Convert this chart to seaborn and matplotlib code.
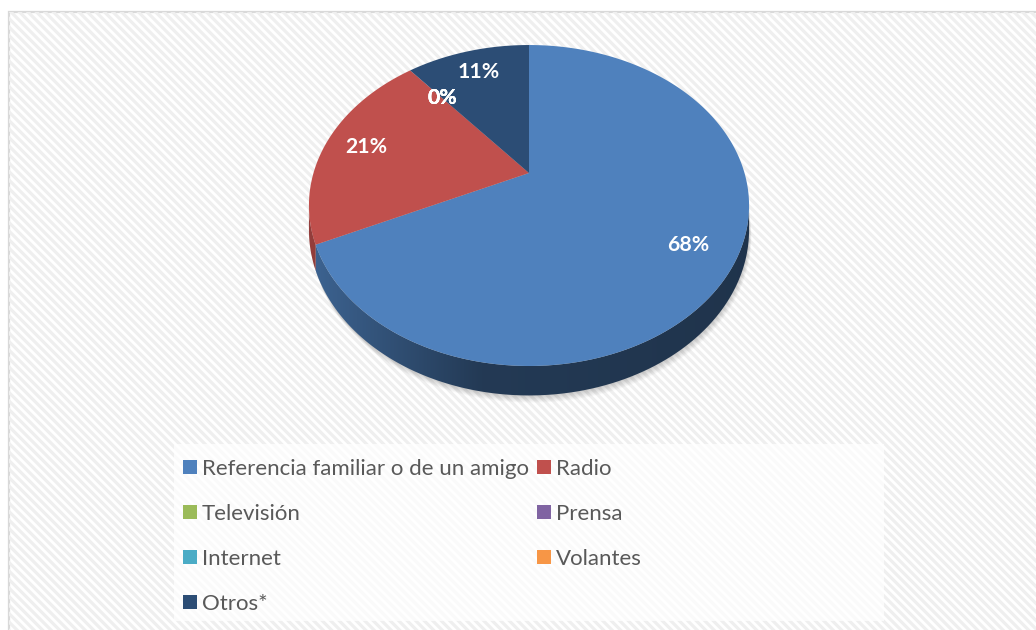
import numpy as np
import matplotlib
matplotlib.use("Agg")
import matplotlib.pyplot as plt
import seaborn as sns
from matplotlib.patches import Polygon, Rectangle
from matplotlib.collections import LineCollection
from matplotlib.colors import to_rgb

# ---------------- data ----------------
categories = ["Referencia familiar o de un amigo", "Radio", "Televisión", "Prensa",
              "Internet", "Volantes", "Otros*"]
values = [68, 21, 0, 0, 0, 0, 11]
colors = ["#4F81BD", "#C0504D", "#9BBB59", "#8064A2", "#4BACC6", "#F79646", "#2C4D75"]

# ---------------- setup ----------------
sns.set_theme(style="white")
plt.rcParams['font.family'] = ['Lato', 'DejaVu Sans']

W, H = 1036, 630
fig = plt.figure(figsize=(W / 100, H / 100), dpi=100)
ax = fig.add_axes([0, 0, 1, 1])
ax.axis('off')
renderer = fig.canvas.get_renderer()


def fit_size(text, target_px, weight='normal'):
    t = ax.text(0, 0, text, fontsize=10, fontweight=weight)
    w = t.get_window_extent(renderer).width
    t.remove()
    return 10 * target_px / w


# chart frame with diagonal stripe texture
frame = Rectangle((9, 12), W + 20, H + 20, fc='white', ec='#d9d9d9', lw=1.6, zorder=0)
ax.add_patch(frame)
cs = np.arange(-800, 1100, 8.5)
segs = [[(c, 0), (c + 800, 800)] for c in cs]
stripes = LineCollection(segs, colors='#efefef', linewidths=2.3, zorder=0.5)
ax.add_collection(stripes)
stripes.set_clip_path(frame)

# ---------------- pie geometry (perspective tilted disc) ----------------
cx, cy = 529, 173
R, Rk, a, D = 215.5, 153.9, 0.2025, 23.5


def proj(phi, r=1.0, depth=0.0):
    u = r * np.sin(phi)
    v = r * np.cos(phi)
    w = 1 + a * v
    return cx + R * u / w, cy - Rk * v / w + depth / w


phi_r = np.arccos(-a)
phi_l = 2 * np.pi - np.arccos(-a)

total = float(sum(values))
fr = np.array(values) / total
starts = np.concatenate([[0], np.cumsum(fr)[:-1]]) * 2 * np.pi
ends = np.cumsum(fr) * 2 * np.pi

# soft shadow
tt = np.linspace(0, 2 * np.pi, 400)
bx, by = proj(tt, depth=D)
for k in range(1, 9):
    ax.add_patch(Polygon(np.column_stack([bx + k * 0.3, by + k * 0.9]), closed=True,
                         fc='black', ec='none', alpha=0.025, zorder=1))

xs_grad = np.linspace(305, 755, 300)
for val, p0, p1, col in zip(values, starts, ends, colors):
    if val <= 0:
        continue
    lo, hi = max(p0, phi_r), min(p1, phi_l)
    if hi > lo:
        t = np.linspace(lo, hi, 200)
        x1, y1 = proj(t)
        x2, y2 = proj(t[::-1], depth=D)
        side = Polygon(np.column_stack([np.r_[x1, x2], np.r_[y1, y2]]), closed=True,
                       fc='none', ec='none', zorder=2)
        ax.add_patch(side)
        base = np.array(to_rgb(col))
        fac = np.interp(xs_grad, [305, 480, 755], [0.78, 0.45, 0.40])
        img = (base[None, :] * fac[:, None])[None, :, :]
        im = ax.imshow(img, extent=[305, 755, 420, 150], aspect='auto', zorder=2,
                       interpolation='bilinear')
        im.set_clip_path(side)
    # top face
    t = np.linspace(p0, p1, 300)
    x, y = proj(t)
    top = Polygon(np.column_stack([np.r_[cx, x], np.r_[cy, y]]), closed=True,
                  fc=col, ec='none', zorder=3)
    ax.add_patch(top)

# data labels
lab_fs = fit_size("68%", 42, weight='bold')
for val, p0, p1 in zip(values, starts, ends):
    mid = (p0 + p1) / 2
    r = 0.8 if val > 0 else 0.7
    lx, ly = proj(mid, r=r)
    ax.text(lx, ly, f"{val}%", color='white', fontweight='bold', fontsize=lab_fs,
            ha='center', va='center', zorder=5)

# ---------------- legend ----------------
ax.add_patch(Rectangle((174, 444), 710, 177, fc='white', ec='none', alpha=0.72, zorder=4))
leg_fs = fit_size(categories[0], 326)
col_x = [183, 537]
for i, (cat, col) in enumerate(zip(categories, colors)):
    row, c = divmod(i, 2)
    yy = 467 + 45 * row
    mx = col_x[c]
    ax.add_patch(Rectangle((mx, yy - 7), 14, 14, fc=col, ec='none', zorder=5))
    ax.text(mx + 19, yy, cat, color='#595959', fontsize=leg_fs, ha='left',
            va='center_baseline', zorder=5)

ax.set_xlim(0, W)
ax.set_ylim(H, 0)
fig.savefig("out.png", dpi=100, facecolor='white')
